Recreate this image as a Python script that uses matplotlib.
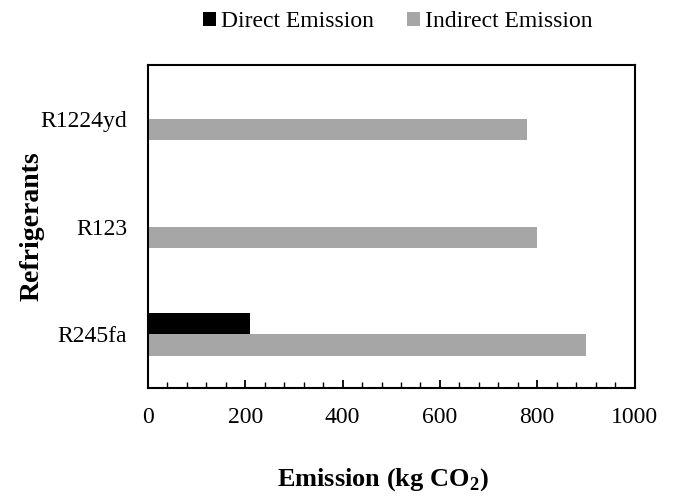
import matplotlib
matplotlib.use("Agg")
import matplotlib.pyplot as plt
import numpy as np
from matplotlib.ticker import MultipleLocator

plt.rcParams['font.family'] = ['Liberation Serif', 'DejaVu Serif']
plt.rcParams['mathtext.fontset'] = 'custom'
plt.rcParams['mathtext.rm'] = 'Liberation Serif'
plt.rcParams['mathtext.bf'] = 'Liberation Serif:bold'

refrigerants = ["R245fa", "R123", "R1224yd"]
direct_emission = [210, 0, 0]
indirect_emission = [900, 800, 780]

fig = plt.figure(figsize=(6.74, 4.96), dpi=100)
ax = fig.add_axes([0.2196, 0.2177, 0.7218, 0.6512])

y = np.arange(len(refrigerants))
h = 0.2
ax.barh(y + h / 2, direct_emission, height=h, color="black", label="Direct Emission")
ax.barh(y - h / 2, indirect_emission, height=h, color="#a6a6a6", label="Indirect Emission")

ax.set_xlim(0, 1000)
ax.set_ylim(-0.5, 2.5)
ax.set_yticks(y)
ax.set_yticklabels(refrigerants, fontsize=17)
ax.tick_params(axis="y", length=0, pad=15)

ax.xaxis.set_major_locator(MultipleLocator(200))
ax.xaxis.set_minor_locator(MultipleLocator(40))
ax.tick_params(axis="x", which="major", direction="in", length=6, width=1.3, labelsize=17, pad=14)
ax.tick_params(axis="x", which="minor", direction="in", length=4, width=1.0)

for s in ax.spines.values():
    s.set_linewidth(1.5)

ax.set_xlabel("Emission (kg CO$_\\mathbf{2}$)", fontsize=19, fontweight="bold")
ax.xaxis.set_label_coords(0.482, -0.242)
ax.set_ylabel("Refrigerants", fontsize=20, fontweight="bold", labelpad=-3)

fig.legend(loc="upper center", bbox_to_anchor=(0.59, 1.02), ncol=2, frameon=False,
           fontsize=17, handlelength=0.55, handleheight=0.55, handletextpad=0.2,
           columnspacing=1.4)

fig.savefig("out.png", dpi=100)
